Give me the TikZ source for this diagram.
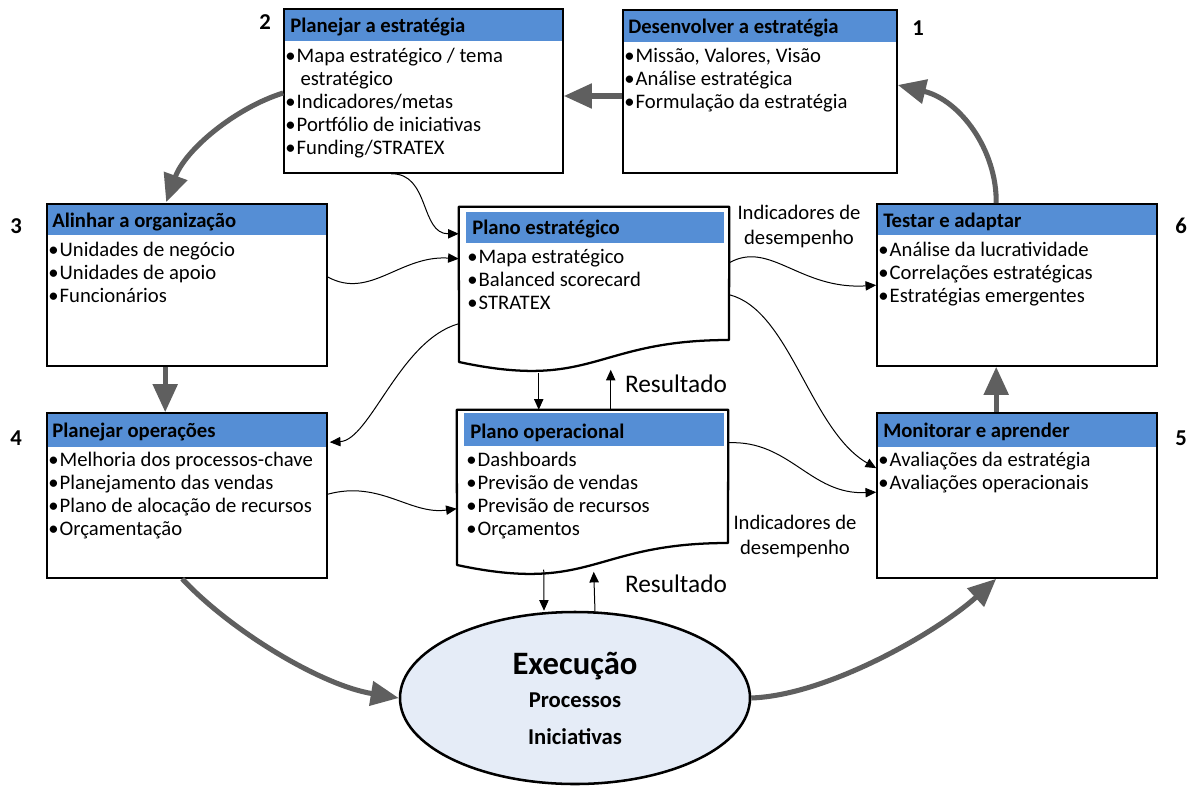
\documentclass[tikz,border=0pt]{standalone}
\usepackage{fontspec}
\setmainfont{Carlito}
\usetikzlibrary{arrows.meta,fit,calc,shapes.geometric}
\definecolor{hdrblue}{RGB}{85,142,213}
\definecolor{arrgrey}{RGB}{95,95,95}
\definecolor{ellfill}{RGB}{229,236,247}
\newcommand\bul{\makebox[8.6pt][l]{•}}
\tikzset{
 box/.style={draw=black, line width=1.2pt, inner sep=0pt},
 hdr/.style={fill=hdrblue, inner sep=0pt},
 docline/.style={draw=black, line width=1.7pt, fill=white, line join=round},
 txt/.style={anchor=base west, inner sep=0pt, font=\fontsize{15.5}{17.4}\selectfont},
 htxt/.style={anchor=base west, inner sep=0pt, font=\fontsize{15.5}{17.4}\selectfont\bfseries},
 num/.style={inner sep=0pt, font=\fontsize{17}{20}\selectfont\bfseries},
 lbl/.style={inner sep=0pt, align=center, font=\fontsize{15.5}{18.75}\selectfont},
 res/.style={inner sep=0pt, anchor=base, font=\fontsize{19}{22}\selectfont},
 big/.style={draw=arrgrey, line width=3.8pt, -{Triangle[length=21pt,width=18pt]}},
 thin/.style={draw=black, line width=0.75pt, -{Triangle[length=8pt,width=7pt]}},
}
\begin{document}
\begin{tikzpicture}[x=0.75pt,y=-0.75pt]
\useasboundingbox (0,0) rectangle (1195,785);

% ---- box 1
\node[hdr, fit={(623,10) (897,42)}] (h1) {};
\node[box, fit={(623,10) (897,173)}] (b1) {};
\node[htxt] (h1t) at (628,33) {Desenvolver a estratégia};
\node[txt] (b1t) at (624,62) {\vtop{\hbox{\bul Missão, Valores, Visão}\hbox{\bul Análise estratégica}\hbox{\bul Formulação da estratégia}}};
% ---- box 2
\node[hdr, fit={(284,9) (563,41)}] (h2) {};
\node[box, fit={(284,9) (563,173)}] (b2) {};
\node[htxt] (h2t) at (290,32) {Planejar a estratégia};
\node[txt] (b2t) at (285,62) {\vtop{\hbox{\bul Mapa estratégico / tema}\hbox{\kern11.5pt estratégico}\hbox{\bul Indicadores/metas}\hbox{\bul Portfólio de iniciativas}\hbox{\bul Funding/STRATEX}}};
% ---- box 3
\node[hdr, fit={(47,204) (327,235)}] (h3) {};
\node[box, fit={(47,204) (327,366)}] (b3) {};
\node[htxt] (h3t) at (52,227) {Alinhar a organização};
\node[txt] (b3t) at (48,256) {\vtop{\hbox{\bul Unidades de negócio}\hbox{\bul Unidades de apoio}\hbox{\bul Funcionários}}};
% ---- box 4
\node[hdr, fit={(47,413) (327,447)}] (h4) {};
\node[box, fit={(47,413) (327,578)}] (b4) {};
\node[htxt] (h4t) at (52,437) {Planejar operações};
\node[txt] (b4t) at (48,466) {\vtop{\hbox{\bul Melhoria dos processos-chave}\hbox{\bul Planejamento das vendas}\hbox{\bul Plano de alocação de recursos}\hbox{\bul Orçamentação}}};
% ---- box 6
\node[hdr, fit={(877,204) (1157,235)}] (h6) {};
\node[box, fit={(877,204) (1157,366)}] (b6) {};
\node[htxt] (h6t) at (883,227) {Testar e adaptar};
\node[txt] (b6t) at (878,256) {\vtop{\hbox{\bul Análise da lucratividade}\hbox{\bul Correlações estratégicas}\hbox{\bul Estratégias emergentes}}};
% ---- box 5
\node[hdr, fit={(877,413) (1157,447)}] (h5) {};
\node[box, fit={(877,413) (1157,578)}] (b5) {};
\node[htxt] (h5t) at (883,437) {Monitorar e aprender};
\node[txt] (b5t) at (878,466) {\vtop{\hbox{\bul Avaliações da estratégia}\hbox{\bul Avaliações operacionais}}};

% ---- numbers
\node[num] (n2) at (265,22) {2};
\node[num] (n1) at (918,28) {1};
\node[num] (n3) at (16,226) {3};
\node[num] (n4) at (16,438) {4};
\node[num] (n6) at (1181,226) {6};
\node[num] (n5) at (1181,438) {5};

% ---- plano estrategico (document)
\node[inner sep=0pt, fit={(459,207) (729,373)}] (pe) {};
\path[docline] (pe.north west) -- (pe.north east) -- (729,340) .. controls (594,340) and (594,391) .. (459,362) -- cycle;
\node[hdr, fit={(466,212) (724,243)}] (peh) {};
\node[htxt] (peht) at (472,234) {Plano estratégico};
\node[txt] (pet) at (467,263) {\vtop{\hbox{\bul Mapa estratégico}\hbox{\bul Balanced scorecard}\hbox{\bul STRATEX}}};
% ---- plano operacional (document)
\node[inner sep=0pt, fit={(457,410) (728,576)}] (po) {};
\path[docline] (po.north west) -- (po.north east) -- (728,543) .. controls (592.5,543) and (592.5,594) .. (457,565) -- cycle;
\node[hdr, fit={(464,413) (724,446)}] (poh) {};
\node[htxt] (poht) at (470,438) {Plano operacional};
\node[txt] (pot) at (466,466) {\vtop{\hbox{\bul Dashboards}\hbox{\bul Previsão de vendas}\hbox{\bul Previsão de recursos}\hbox{\bul Orçamentos}}};

% ---- execution ellipse
\node[ellipse, draw=black, line width=1.9pt, fill=ellfill, minimum width=262.5pt, minimum height=129pt, inner sep=0pt] (ex) at (575,698) {};
\node[inner sep=0pt, anchor=base, font=\fontsize{24.5}{28}\selectfont\bfseries] (ex1) at (575,674) {Execução};
\node[inner sep=0pt, anchor=base, font=\fontsize{17}{20}\selectfont\bfseries] (ex2) at (575,707) {Processos};
\node[inner sep=0pt, anchor=base, font=\fontsize{17}{20}\selectfont\bfseries] (ex3) at (575,744) {Iniciativas};

% ---- labels
\node[lbl] (l1) at (799,226) {Indicadores de\\desempenho};
\node[lbl] (l2) at (795,536) {Indicadores de\\desempenho};
\node[res] (r1) at (676,392) {Resultado};
\node[res] (r2) at (676,592) {Resultado};

% ---- big grey arrows
\draw[big] ($(b1.west)+(0,4.5)$) -- ($(b2.east)+(0,5)$);
\draw[big] ($(b2.west)+(0,2)$) .. controls (235,108) and (185,150) .. ($(b3.north west)+(120,-1)$);
\draw[big] ($(b3.south west)+(119,0)$) -- ($(b4.north west)+(119,0)$);
\draw[big] ($(b4.south west)+(136,0)$) .. controls (230,630) and (320,685) .. (ex.west);
\draw[big] (ex.east) .. controls (830,695) and (940,630) .. ($(b5.south west)+(120,0)$);
\draw[big] ($(b5.north west)+(120,0)$) -- ($(b6.south west)+(120,0)$);
\draw[big] ($(b6.north west)+(120,0)$) .. controls (997,150) and (960,100) .. ($(b1.east)+(0,-6.5)$);

% ---- thin black arrows
\draw[thin] ($(b2.south west)+(108,0)$) .. controls (430,173) and (420,234) .. ($(pe.north west)+(0,27)$);
\draw[thin] ($(b3.east)+(0,-8)$) .. controls (370,300) and (400,255) .. ($(pe.north west)+(0,52)$);
\draw[thin] ($(pe.north west)+(0,117)$) .. controls (400,340) and (370,440) .. ($(b4.north east)+(2,30)$);
\draw[thin] ($(b4.north east)+(0,82)$) .. controls (380,480) and (410,515) .. ($(po.north west)+(0,99)$);
\draw[thin] ($(pe.north east)+(0,56)$) .. controls (770,240) and (800,290) .. ($(b6.north west)+(0,82)$);
\draw[thin] ($(pe.north east)+(0,88)$) .. controls (790,310) and (810,430) .. ($(b5.north west)+(0,56)$);
\draw[thin] ($(po.north east)+(0,33)$) .. controls (790,440) and (810,495) .. ($(b5.north west)+(0,80)$);
\draw[thin] ($(pe.north west)+(80,166)$) -- ($(po.north west)+(82,0)$);
\draw[thin] ($(po.north west)+(154,0)$) -- ($(pe.north west)+(152,163)$);
\draw[thin] ($(po.north west)+(87,160)$) -- ($(ex.north)+(-31,0)$);
\draw[thin] ($(ex.north)+(20,1)$) -- ($(po.north west)+(137,162)$);
\end{tikzpicture}
\end{document}
